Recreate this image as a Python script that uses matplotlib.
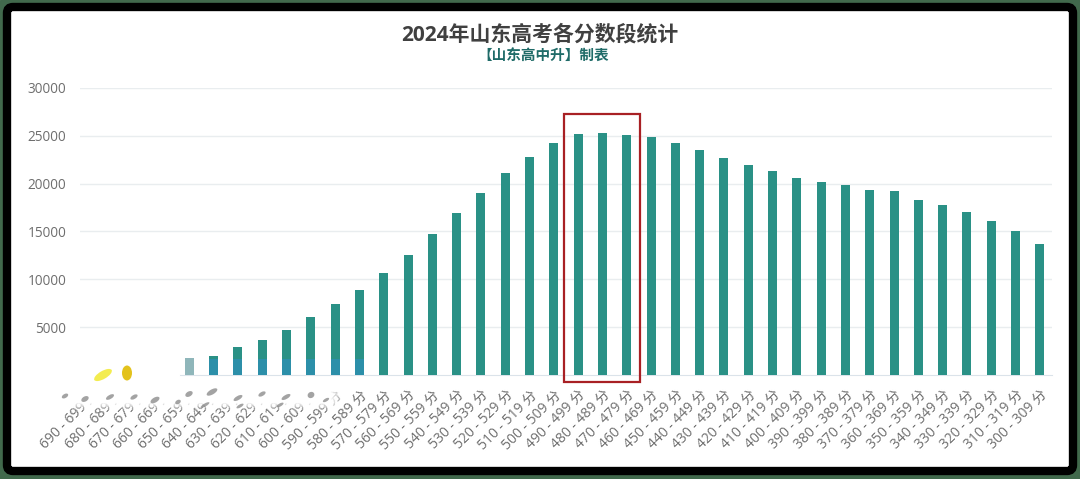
"""2024 Shandong gaokao score band chart, framed screenshot look."""

import matplotlib
matplotlib.use("Agg")
import matplotlib.pyplot as plt
import numpy as np
from matplotlib.patches import Ellipse, FancyBboxPatch, Rectangle

plt.rcParams["font.family"] = ["Open Sans", "Noto Sans CJK SC", "DejaVu Sans"]

W, H = 1080, 479
BAR_COLOR = "#2a9186"
TEXT_GREY = "#6e6e6e"

band_starts = [690, 680, 670, 660, 650, 640, 630, 620, 610, 600,
               590, 580, 570, 560, 550, 540, 530, 520, 510, 500,
               490, 480, 470, 460, 450, 440, 430, 420, 410, 400,
               390, 380, 370, 360, 350, 340, 330, 320, 310, 300]
# the first four bars sit under the smudge in the picture, so they are guesses
students = [100, 250, 500, 900, 1800, 2000, 2900, 3700, 4700, 6100,
            7400, 8900, 10700, 12500, 14700, 16900, 19000, 21100, 22800, 24200,
            25200, 25300, 25100, 24900, 24200, 23500, 22700, 21900, 21300, 20600,
            20200, 19900, 19300, 19200, 18300, 17800, 17000, 16100, 15000, 13700]
y_ticks = [5000, 10000, 15000, 20000, 25000, 30000]
title = "2024年山东高考各分数段统计"
subtitle = "【山东高中升】制表"

# grey flecks left over where the labels were scrubbed: x, y, w, h in pixels
flecks = [(65, 396, 7, 4), (85, 399, 8, 5), (110, 397, 9, 4), (134, 397, 8, 4),
          (155, 400, 10, 5), (189, 394, 8, 5), (212, 392, 12, 5), (238, 398, 10, 4),
          (262, 394, 8, 4), (286, 397, 10, 4), (311, 395, 7, 6), (280, 405, 8, 3),
          (205, 405, 10, 3), (240, 406, 8, 3), (178, 402, 6, 4), (326, 400, 7, 3)]


def draw_frame(over):
    over.add_patch(Rectangle((0, 0), W, H, color="#41694c", zorder=0))
    over.add_patch(FancyBboxPatch((7, 7), 1066, 464, boxstyle="round,pad=0,rounding_size=6",
                                  fc="white", ec="black", lw=6, zorder=1))


def draw_smudge(over):
    ny, nx = 80, 320
    yy, xx = np.mgrid[0:ny, 0:nx]
    px = 40 + xx
    py = 350 + yy
    left = np.clip((345 - px) / 15, 0, 1)
    top_edge = np.where(px < 180, 352, 377)
    top = np.clip((py - top_edge) / 5, 0, 1)
    bottom = np.clip((410 - py) / 8, 0, 1)
    start = np.clip((px - 40) / 12, 0, 1)
    rgba = np.ones((ny, nx, 4))
    rgba[..., 3] = left * top * bottom * start
    over.imshow(rgba, extent=(40, 360, 430, 350), aspect="auto", zorder=3,
                interpolation="bilinear")
    for x, y, w, h in flecks:
        over.add_patch(Ellipse((x, y), w, h, angle=-30, fc="#7d7d7d", ec="none",
                               alpha=0.7, zorder=4))
    # yellow marker blobs
    over.add_patch(Ellipse((103, 375), 20, 8, angle=-30, fc="#f2ea3c", ec="none", alpha=0.9, zorder=4))
    over.add_patch(Ellipse((127, 373), 10, 15, fc="#e3c21c", ec="none", zorder=4))


def main():
    fig = plt.figure(figsize=(W / 100, H / 100), dpi=100)
    fig.patch.set_facecolor("white")

    over_back = fig.add_axes([0, 0, 1, 1], zorder=0)
    over_back.set_xlim(0, W)
    over_back.set_ylim(H, 0)
    over_back.axis("off")
    draw_frame(over_back)

    ax = fig.add_axes([80 / W, 1 - 375 / H, 972 / W, 287 / H], zorder=1)
    ax.patch.set_alpha(0)
    x = np.arange(len(students))
    colors = [BAR_COLOR] * len(students)
    colors[4] = "#8fb6ba"  # the 650 bar is washed out by the smudge
    ax.bar(x, students, width=0.37, color=colors, zorder=3)
    # blue cast on the low bars near the smudge
    tinted = x[(x >= 5) & (x <= 11)]
    ax.bar(tinted, [1700] * len(tinted), width=0.37, color="#2d8fb5", alpha=0.75, zorder=4)
    ax.set_xlim(-0.5, len(students) - 0.5)
    ax.set_ylim(0, 30000)
    ax.set_yticks(y_ticks)
    ax.set_xticks(x, [f"{s} - {s + 9} 分" for s in band_starts], rotation=45, ha="right",
                  rotation_mode="anchor", fontsize=10, color=TEXT_GREY)
    ax.tick_params(axis="both", length=0)
    ax.tick_params(axis="x", pad=9)
    ax.tick_params(axis="y", labelsize=9.8, labelcolor=TEXT_GREY, pad=10)
    for side in ("top", "right", "left"):
        ax.spines[side].set_visible(False)
    ax.spines["bottom"].set_color("#dbe3ea")
    ax.grid(axis="y", color="#e9edef", lw=1)
    ax.set_axisbelow(True)

    over = fig.add_axes([0, 0, 1, 1], zorder=2)
    over.patch.set_alpha(0)
    draw_smudge(over)
    over.set_xlim(0, W)
    over.set_ylim(H, 0)
    over.axis("off")
    over.add_patch(Rectangle((564, 114), 76, 268, fc="none", ec="#a82024", lw=1.6, zorder=6))
    over.text(540, 35, title, ha="center", va="center", fontsize=15, fontweight="bold",
              color="#404040", zorder=6)
    over.text(543, 57, subtitle, ha="center", va="center", fontsize=10.5, fontweight="bold",
              color="#1f6b68", zorder=6)

    fig.savefig("out.png", dpi=100)
    plt.close(fig)


if __name__ == "__main__":
    main()
